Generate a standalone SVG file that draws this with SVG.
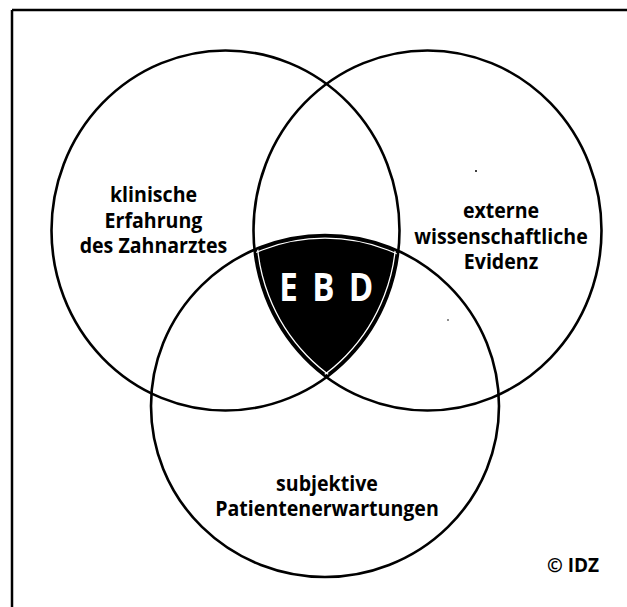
<svg xmlns="http://www.w3.org/2000/svg" width="627" height="607" viewBox="0 0 627 607">
<style>
.c{fill:none;stroke:#000;stroke-width:2.6}
.w{fill:none;stroke:#fff;stroke-width:1.3}
.t{font-family:"Open Sans","Noto Sans",sans-serif;font-weight:700;font-size:22px;fill:#000;text-anchor:middle}
.ebd{font-family:"Open Sans","Noto Sans",sans-serif;font-weight:700;font-size:39px;fill:#fff;text-anchor:middle}
</style>
<defs>
<clipPath id="cl"><ellipse cx="225.5" cy="230.5" rx="174" ry="180"/></clipPath>
<clipPath id="cr"><ellipse cx="427.5" cy="230.5" rx="174" ry="180"/></clipPath>
<clipPath id="cb"><ellipse cx="325" cy="406" rx="174" ry="171"/></clipPath>
</defs>
<rect width="627" height="607" fill="#fff"/>
<g id="frame">
<line x1="12" y1="10" x2="627" y2="10" stroke="#000" stroke-width="2.5"/>
<line x1="12" y1="10" x2="12" y2="607" stroke="#000" stroke-width="2.5"/>
</g>
<g id="ebd">
<g clip-path="url(#cl)"><g clip-path="url(#cr)"><g clip-path="url(#cb)">
<rect x="200" y="200" width="250" height="200" fill="#000"/>
<ellipse class="w" cx="225.5" cy="230.5" rx="170.8" ry="176.8"/>
<ellipse class="w" cx="427.5" cy="230.5" rx="170.8" ry="176.8"/>
<ellipse class="w" cx="325" cy="406" rx="170.8" ry="167.8"/>
</g></g></g>
<text class="ebd" transform="translate(288.5,300.5) scale(0.85,1)">E</text>
<text class="ebd" transform="translate(323.5,300.5) scale(0.85,1)">B</text>
<text class="ebd" transform="translate(361,300.5) scale(0.85,1)">D</text>
</g>
<g id="klinisch">
<ellipse class="c" cx="225.5" cy="230.5" rx="174" ry="180"/>
<text class="t" transform="translate(153.5,202) scale(0.89,1)">klinische</text>
<text class="t" transform="translate(153.5,227.5) scale(0.89,1)">Erfahrung</text>
<text class="t" transform="translate(153.5,253) scale(0.89,1)">des Zahnarztes</text>
</g>
<g id="extern">
<ellipse class="c" cx="427.5" cy="230.5" rx="174" ry="180"/>
<text class="t" transform="translate(501,218) scale(0.89,1)">externe</text>
<text class="t" transform="translate(501,244) scale(0.89,1)">wissenschaftliche</text>
<text class="t" transform="translate(501,269) scale(0.89,1)">Evidenz</text>
</g>
<g id="patient">
<ellipse class="c" cx="325" cy="406" rx="174" ry="171"/>
<text class="t" transform="translate(327,491) scale(0.89,1)">subjektive</text>
<text class="t" transform="translate(327,516) scale(0.89,1)">Patientenerwartungen</text>
</g>
<g id="copyright">
<text class="t" x="573" y="572" style="font-size:19px">© IDZ</text>
</g>
<g id="specks" fill="#000">
<circle cx="476" cy="171" r="1"/>
<circle cx="448" cy="320" r="0.8"/>
</g>
</svg>
